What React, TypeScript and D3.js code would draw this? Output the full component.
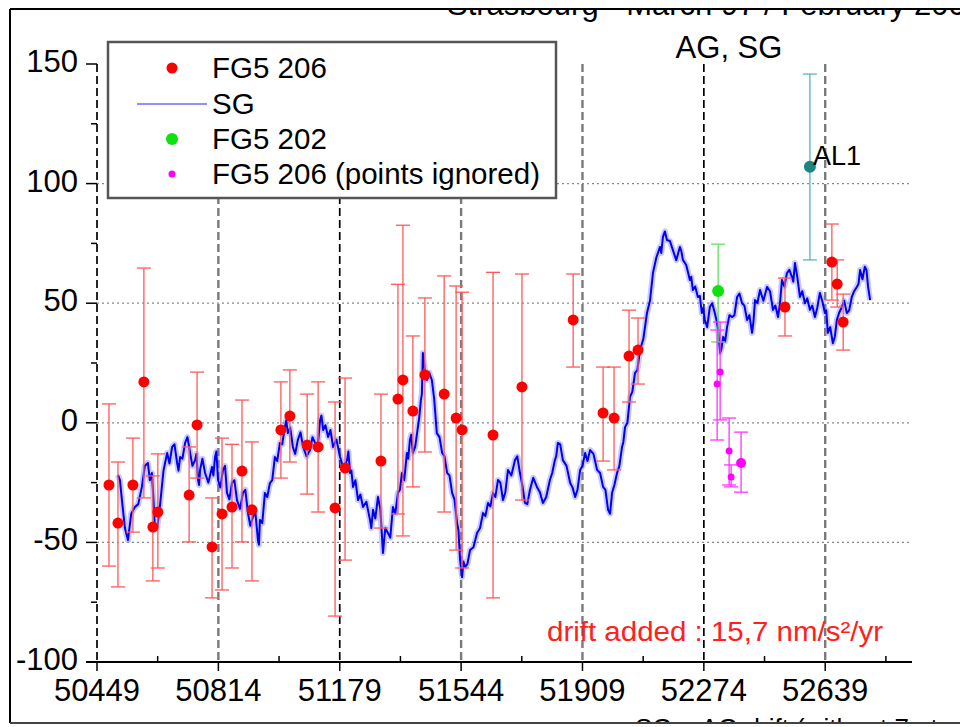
import React from 'react';
import * as d3 from 'd3';

const xTicks = [50449, 50814, 51179, 51544, 51909, 52274, 52639];
const yTicks = [-100, -50, 0, 50, 100, 150];
const yMinorTicks = [-75, -25, 25, 75, 125];
const yGridValues = [-50, 0, 50, 100];

// SG gravity residuals
const sgDays = [50512,50524,50542,50563,50584,50602,50614,50623,50638,50660,50675,50690,50699,50714,50729,50744,50753,50759,50774,50795,50804,50813,50828,50840,50855,50870,50888,50903,50918,50933,50939,50954,50969,50984,50999,51014,51023,51038,51053,51069,51090,51105,51120,51129,51144,51159,51180,51201,51210,51219,51234,51249,51270,51279,51294,51309,51324,51339,51354,51366,51381,51390,51399,51414,51423,51429,51441,51456,51471,51487,51502,51517,51532,51541,51547,51556,51571,51592,51610,51625,51640,51655,51670,51685,51706,51721,51736,51751,51772,51790,51811,51826,51835,51850,51872,51887,51902,51917,51932,51953,51971,51986,51998,52013,52028,52037,52052,52067,52082,52103,52121,52142,52151,52163,52181,52202,52211,52232,52241,52256,52268,52277,52292,52307,52317,52323,52332,52344,52359,52374,52389,52404,52419,52428,52443,52464,52482,52497,52509,52524,52539,52548,52563,52578,52593,52608,52623,52638,52647,52662,52674,52689,52704,52719,52734,52744,52758,52768,52774];
const sgValues = [-21.8,-32.3,-49.0,-35.2,-26.8,-16.8,-21.0,-43.6,-35.2,-12.6,-10.1,-16.8,-14.3,-8.4,-12.6,-15.6,-23.9,-19.7,-21.0,-18.5,-14.3,-23.9,-19.7,-29.3,-25.2,-32.3,-29.3,-37.7,-39.4,-49.0,-40.6,-29.3,-25.2,-14.3,-8.4,-1.8,-4.3,-10.1,-7.2,-10.1,-11.4,-8.4,1.2,-3.0,-5.9,-10.1,-14.3,-15.6,-21.0,-26.8,-32.3,-35.2,-40.6,-36.4,-31.0,-54.4,-46.1,-35.2,-29.3,-21.0,-12.6,-7.2,-12.6,-1.8,9.5,29.2,17.9,17.9,-4.3,-12.6,-21.0,-29.3,-41.9,-57.4,-64.5,-60.3,-53.2,-46.1,-37.7,-33.5,-29.3,-23.9,-32.3,-19.7,-15.6,-21.0,-33.5,-28.1,-26.8,-33.5,-23.9,-15.6,-8.4,-15.6,-25.2,-31.0,-19.7,-12.6,-11.4,-19.7,-26.8,-36.4,-29.3,-21.0,-10.1,-1.8,10.8,20.9,30.4,45.9,62.6,73.5,77.7,76.4,72.2,73.5,68.1,59.7,55.5,52.6,45.9,43.0,48.4,45.9,38.8,29.2,35.9,40.1,44.2,52.6,50.0,43.0,37.6,51.3,55.5,56.8,47.2,44.2,59.7,62.6,60.9,66.8,52.6,50.0,47.2,44.2,54.3,45.9,37.6,33.3,43.0,48.4,45.9,52.6,56.8,63.9,65.2,56.8,51.3];
// short-period scatter of the SG trace, read between the samples above
const sgScatterDays = [50518,50533,50552,50573,50593,50608,50618,50630,50649,50667,50682,50694,50706,50721,50736,50748,50756,50766,50784,50799,50808,50820,50834,50847,50862,50879,50895,50910,50925,50936,50946,50961,50976,50991,51006,51018,51030,51045,51061,51079,51097,51112,51124,51136,51151,51169,51190,51205,51214,51226,51241,51259,51274,51286,51301,51316,51331,51346,51360,51373,51385,51394,51406,51418,51426,51435,51448,51463,51479,51494,51509,51524,51536,51551,51563,51581,51601,51617,51632,51647,51662,51677,51695,51713,51728,51743,51761,51781,51800,51818,51830,51842,51861,51879,51894,51909,51924,51942,51962,51978,51992,52005,52020,52032,52044,52059,52074,52092,52112,52131,52146,52157,52172,52191,52206,52221,52236,52248,52262,52272,52284,52299,52312,52320,52327,52338,52351,52366,52381,52396,52411,52423,52435,52453,52473,52489,52503,52516,52531,52543,52555,52570,52585,52600,52615,52630,52642,52654,52668,52681,52696,52711,52726,52739,52751,52763];
const sgScatterValues = [-24,-44,-38,-34,-18,-24,-30,-44,-20,-17,-9,-20,-15,-6,-18,-13,-26,-15,-25,-22,-12,-27,-18,-32,-24,-36,-28,-43,-37,-51,-42,-31,-24,-16,-9,1,-2,-13,-4,-14,-6,-11,3,-1,-3,-7,-19,-12,-20,-24,-30,-33,-44,-40,-36,-44,-48,-38,-28,-24,-15,-5,-10,2,12,22,21,10,-6,-14,-22,-32,-45,-58,-59,-52,-44,-39,-35,-31,-25,-29,-22,-14,-26,-34,-23,-29,-31,-21,-14,-9,-18,-27,-28,-18,-16,-13,-21,-28,-38,-26,-18,-8,0,13,22,35,51,69,71,80,76,68,72,66,61,57,53,48,40,50,43,34,31,34,45,45,54,49,45,42,50,51,55,49,50,57,64,59,61,55,52,49,48,51,47,40,36,46,51,47,55,58,60,64];

const fg206Days = [50485,50512,50557,50590,50617,50632,50726,50750,50795,50825,50855,50885,50915,51002,51029,51081,51114,51165,51195,51303,51354,51369,51399,51435,51493,51529,51547,51640,51727,51881,51971,52004,52049,52076,52518,52659,52675,52693];
const fg206Values = [-26.0,-41.9,-26.0,17.1,-43.6,-37.3,-30.2,-0.9,-51.9,-38.1,-35.2,-20.2,-36.4,-3.0,2.8,-9.3,-10.1,-35.6,-18.9,-16.0,9.9,17.9,4.9,20.0,12.0,2.0,-3.0,-5.1,15.0,43.0,4.1,2.0,27.9,30.4,48.4,67.2,58.0,42.1];
const fg206High = [7.9,-16.4,-6.4,64.7,-22.2,-13.0,-10.1,21.2,-31.4,-6.4,-9.0,9.5,-8.0,17.1,22.1,12.0,17.1,8.7,18.7,12.0,57.9,82.6,36.3,52.2,61.4,57.2,54.6,62.9,62.2,62.2,23.3,23.3,47.1,43.8,60.5,83.1,68.1,53.8];
const fg206Low = [-59.9,-68.6,-45.7,-31.4,-66.1,-60.7,-49.8,-23.1,-73.2,-69.9,-60.7,-49.8,-66.1,-23.1,-16.4,-29.8,-37.3,-80.8,-57.4,-44.0,-38.1,-47.3,-26.8,-12.2,-37.3,-53.2,-60.7,-73.2,-32.3,23.3,-16.0,-19.7,8.7,16.2,36.3,51.3,48.4,30.4];

const fg202Days = [52317];
const fg202Values = [55.1];
const fg202High = [74.7];
const fg202Low = [33.8];

const ignoredDays = [52314, 52323, 52350, 52356, 52386];
const ignoredValues = [16.2, 21.2, -11.8, -22.7, -16.8];
const ignoredHigh = [38.8, 42.1, 2.0, -17.6, -3.9];
const ignoredLow = [-7.2, 1.2, -26.0, -26.8, -29.0];

const al1Days = [52593];
const al1Values = [107.0];
const al1High = [145.8];
const al1Low = [68.1];

const legendLabels = ['FG5 206', 'SG', 'FG5 202', 'FG5 206 (points ignored)'];

const FONT = "'Liberation Sans', Arial, Helvetica, sans-serif";

export default function App() {
  const W = 960, H = 727;
  const x = d3.scaleLinear().domain([50449, 52900]).range([97, 912]);
  const y = d3.scaleLinear().domain([-100, 150]).range([662, 64]);

  const sgData = sgDays.map((d, i) => [d, sgValues[i]] as [number, number])
    .concat(sgScatterDays.map((d, i) => [d, sgScatterValues[i]] as [number, number]))
    .sort((a, b) => a[0] - b[0]);
  const line = d3.line<[number, number]>().x(d => x(d[0])).y(d => y(d[1]));
  const sgPath = line(sgData) || '';

  const xMinor = d3.range(0, xTicks.length).map(i => xTicks[i] + 182.5);
  const darkLines = [0, 2, 5];

  const errSeries = (days: number[], vals: number[], hi: number[], lo: number[], color: string, barColor: string, r: number, key: string, rs?: number[]) => (
    <g key={key}>
      {days.map((d, i) => (
        <g key={i}>
          <line x1={x(d)} x2={x(d)} y1={y(hi[i])} y2={y(lo[i])} stroke={barColor} strokeWidth={1.3} />
          <line x1={x(d) - 7} x2={x(d) + 7} y1={y(hi[i])} y2={y(hi[i])} stroke={barColor} strokeWidth={1.3} />
          <line x1={x(d) - 7} x2={x(d) + 7} y1={y(lo[i])} y2={y(lo[i])} stroke={barColor} strokeWidth={1.3} />
        </g>
      ))}
      {days.map((d, i) => (
        <circle key={'c' + i} cx={x(d)} cy={y(vals[i])} r={rs ? rs[i] : r} fill={color} />
      ))}
    </g>
  );

  return (
    <svg width={W} height={H} style={{ position: 'absolute', left: 0, top: 0, background: '#fff' }} fontFamily={FONT}>
      <defs>
        <clipPath id="frame">
          <rect x={10} y={9} width={950} height={714} />
        </clipPath>
      </defs>
      <rect x={0} y={0} width={W} height={H} fill="#fff" />
      <g clipPath="url(#frame)">
        <text x={447} y={15} fontSize={31} fill="#000">Strasbourg - March 97 / February 2003</text>
        <text x={635} y={737} fontSize={26} fill="#000">SG + AG drift (without 7 pts anomalous)</text>
      </g>
      <text x={729} y={58} fontSize={31} textAnchor="middle" fill="#000">AG, SG</text>

      {/* horizontal dotted grid */}
      {yGridValues.map(v => (
        <line key={v} x1={97} x2={912} y1={y(v)} y2={y(v)} stroke="#888" strokeWidth={1.2} strokeDasharray="2,3" />
      ))}
      {/* vertical dashed lines */}
      {xTicks.map((t, i) => (
        <line key={t} x1={x(t)} x2={x(t)} y1={y(150)} y2={y(-100)}
          stroke={darkLines.includes(i) ? '#000' : '#7a7a7a'}
          strokeWidth={darkLines.includes(i) ? 1.7 : 2.4} strokeDasharray="8,4" />
      ))}

      {/* SG line */}
      <path d={sgPath} fill="none" stroke="#7878ff" strokeWidth={6} strokeOpacity={0.4} strokeLinejoin="round" />
      <path d={sgPath} fill="none" stroke="#0000f0" strokeWidth={2} strokeLinejoin="round" />

      {errSeries(fg206Days, fg206Values, fg206High, fg206Low, '#ff0000', '#ff5a5a', 5.5, 'fg206')}
      {errSeries(fg202Days, fg202Values, fg202High, fg202Low, '#10e010', '#60e060', 6, 'fg202')}
      {errSeries(ignoredDays, ignoredValues, ignoredHigh, ignoredLow, '#ff00ff', '#ff33ff', 3.5, 'ign', [3.5, 3.5, 3.5, 3.5, 5])}
      {errSeries(al1Days, al1Values, al1High, al1Low, '#1a8585', '#5ab5b5', 6, 'al1')}
      <text x={x(al1Days[0]) + 3} y={y(al1Values[0]) - 2} fontSize={27} fill="#000">AL1</text>

      {/* y axis ticks */}
      {yTicks.map(v => (
        <g key={v}>
          <line x1={86} x2={97} y1={y(v)} y2={y(v)} stroke="#000" strokeWidth={1.5} />
          <text x={78} y={y(v) + 8} fontSize={31} textAnchor="end" fill="#000">{v}</text>
        </g>
      ))}
      {yMinorTicks.map(v => (
        <line key={v} x1={91} x2={97} y1={y(v)} y2={y(v)} stroke="#000" strokeWidth={1.5} />
      ))}

      {/* x axis */}
      <line x1={86} x2={912} y1={y(-100)} y2={y(-100)} stroke="#000" strokeWidth={2} />
      {xTicks.map(t => (
        <g key={t}>
          <line x1={x(t)} x2={x(t)} y1={662} y2={671} stroke="#000" strokeWidth={1.5} />
          <text x={x(t)} y={701} fontSize={31} textAnchor="middle" fill="#000">{t}</text>
        </g>
      ))}
      {xMinor.map(t => (
        <line key={t} x1={x(t)} x2={x(t)} y1={656} y2={662} stroke="#000" strokeWidth={1.5} />
      ))}

      {/* drift text */}
      <text x={547} y={641} fontSize={27} fill="#ff2020" textLength={336} lengthAdjust="spacingAndGlyphs">drift added : 15,7 nm/s²/yr</text>

      {/* legend */}
      <rect x={108} y={42} width={448} height={156} fill="#fff" stroke="#555" strokeWidth={2.5} />
      <circle cx={172} cy={68} r={5.5} fill="#ff0000" />
      <line x1={137} x2={207} y1={104} y2={104} stroke="#6a6aff" strokeWidth={1.5} />
      <circle cx={172} cy={139} r={6} fill="#10e010" />
      <circle cx={172} cy={174} r={3.5} fill="#ff00ff" />
      {legendLabels.map((l, i) => (
        <text key={l} x={212} y={[68, 104, 139, 174][i] + 10} fontSize={29.5} fill="#000">{l}</text>
      ))}

      {/* frame */}
      <line x1={10} x2={960} y1={9} y2={9} stroke="#000" strokeWidth={2} />
      <line x1={10} x2={10} y1={9} y2={723} stroke="#000" strokeWidth={2} />
      <line x1={10} x2={960} y1={723} y2={723} stroke="#444" strokeWidth={2} />
    </svg>
  );
}
